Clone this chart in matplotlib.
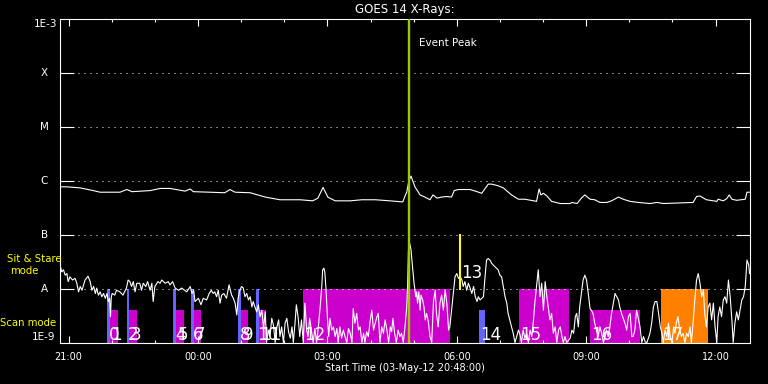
import numpy as np
import matplotlib
matplotlib.use('Agg')
import matplotlib.pyplot as plt

# time axis: UT hours counted from 00:00 on 03-May-12 (24+ = 04-May)
t_start, t_end = 20.8, 36.8

# GOES 14 long channel (1-8 A), log10 of W/m^2
long_t = [20.80, 20.96, 21.27, 21.57, 21.73, 22.19, 22.35, 22.47, 22.89, 23.12,
          23.35, 23.70, 23.82, 23.89, 24.27, 24.62, 24.74, 24.86, 25.21, 25.56,
          25.90, 26.37, 26.66, 26.78, 26.90, 27.01, 27.18, 27.53, 27.80, 28.11,
          28.45, 28.75, 28.80, 28.84, 28.89, 28.94, 29.03, 29.15, 29.26, 29.38,
          29.45, 29.54, 29.65, 29.77, 29.88, 29.94, 30.04, 30.31, 30.47, 30.58,
          30.73, 30.81, 30.96, 31.08, 31.27, 31.43, 31.58, 31.85, 31.91, 31.95,
          32.01, 32.09, 32.20, 32.40, 32.63, 32.67, 32.79, 32.89, 32.97, 33.09,
          33.20, 33.32, 33.48, 33.59, 33.75, 33.86, 34.02, 34.21, 34.48, 34.64,
          34.79, 35.48, 35.56, 35.64, 35.79, 36.03, 36.06, 36.18, 36.26, 36.32,
          36.38, 36.49, 36.69, 36.73, 36.80]
long_log = [-6.11, -6.11, -6.13, -6.18, -6.21, -6.21, -6.16, -6.20, -6.18, -6.14,
            -6.14, -6.19, -6.15, -6.20, -6.21, -6.22, -6.16, -6.21, -6.22, -6.30,
            -6.35, -6.35, -6.37, -6.32, -6.12, -6.30, -6.37, -6.37, -6.35, -6.35,
            -6.37, -6.39, -6.28, -6.21, -6.00, -5.91, -6.11, -6.26, -6.30, -6.35,
            -6.26, -6.32, -6.30, -6.29, -6.30, -6.18, -6.16, -6.16, -6.20, -6.23,
            -6.06, -6.06, -6.09, -6.13, -6.26, -6.34, -6.34, -6.38, -6.15, -6.26,
            -6.23, -6.28, -6.38, -6.42, -6.42, -6.40, -6.42, -6.32, -6.26, -6.34,
            -6.35, -6.40, -6.40, -6.37, -6.30, -6.34, -6.38, -6.40, -6.42, -6.40,
            -6.42, -6.40, -6.29, -6.28, -6.35, -6.38, -6.34, -6.37, -6.33, -6.26,
            -6.34, -6.36, -6.34, -6.21, -6.21]

# GOES 14 short channel (0.5-4 A), log10 of W/m^2
short_t = [
    20.82, 20.84, 20.88, 20.92, 20.96, 20.99, 21.03, 21.09, 21.15, 21.19,
    21.23, 21.27, 21.31, 21.38, 21.45, 21.50, 21.54, 21.58, 21.62, 21.65,
    21.69, 21.73, 21.77, 21.81, 21.85, 21.89, 21.92, 21.95, 21.97, 21.99,
    22.01, 22.07, 22.11, 22.19, 22.26, 22.34, 22.38, 22.42, 22.46, 22.50,
    22.54, 22.58, 22.65, 22.69, 22.73, 22.79, 22.83, 22.89, 22.93, 22.96,
    23.00, 23.07, 23.12, 23.16, 23.24, 23.31, 23.35, 23.41, 23.47, 23.55,
    23.62, 23.69, 23.74, 23.82, 23.86, 23.90, 23.93, 24.01, 24.07, 24.12,
    24.20, 24.26, 24.31, 24.35, 24.39, 24.43, 24.47, 24.51, 24.55, 24.60,
    24.66, 24.72, 24.78, 24.82, 24.86, 24.90, 24.93, 24.97, 25.01, 25.05,
    25.09, 25.13, 25.17, 25.21, 25.25, 25.28, 25.32, 25.36, 25.40, 25.44,
    25.48, 25.52, 25.56, 25.59, 25.63, 25.67, 25.71, 25.75, 25.79, 25.83,
    25.87, 25.90, 25.94, 25.98, 26.02, 26.06, 26.10, 26.14, 26.18, 26.21,
    26.25, 26.28, 26.32, 26.36, 26.40, 26.44, 26.48, 26.52, 26.55, 26.59,
    26.63, 26.67, 26.71, 26.75, 26.79, 26.83, 26.87, 26.89, 26.92, 26.94,
    26.97, 27.00, 27.03, 27.06, 27.10, 27.14, 27.18, 27.22, 27.25, 27.29,
    27.33, 27.37, 27.41, 27.45, 27.49, 27.53, 27.57, 27.60, 27.64, 27.68,
    27.72, 27.76, 27.80, 27.84, 27.87, 27.91, 27.95, 27.99, 28.03, 28.07,
    28.11, 28.15, 28.18, 28.22, 28.26, 28.30, 28.34, 28.38, 28.42, 28.46,
    28.49, 28.52, 28.56, 28.60, 28.64, 28.68, 28.72, 28.76, 28.80, 28.84,
    28.86, 28.88, 28.91, 28.94, 28.96, 28.99, 29.01, 29.05, 29.07, 29.09,
    29.12, 29.15, 29.17, 29.21, 29.24, 29.27, 29.30, 29.34, 29.38, 29.42,
    29.46, 29.50, 29.53, 29.57, 29.61, 29.65, 29.69, 29.73, 29.77, 29.81,
    29.84, 29.88, 29.92, 29.96, 30.00, 30.04, 30.08, 30.12, 30.15, 30.19,
    30.23, 30.27, 30.31, 30.35, 30.39, 30.43, 30.47, 30.50, 30.54, 30.58,
    30.62, 30.65, 30.69, 30.73, 30.77, 30.81, 30.88, 30.96, 31.00, 31.04,
    31.08, 31.12, 31.16, 31.19, 31.23, 31.27, 31.31, 31.35, 31.39, 31.43,
    31.47, 31.50, 31.54, 31.58, 31.62, 31.66, 31.70, 31.74, 31.78, 31.81,
    31.85, 31.89, 31.93, 31.97, 32.01, 32.05, 32.09, 32.12, 32.16, 32.20,
    32.24, 32.28, 32.32, 32.36, 32.40, 32.44, 32.47, 32.51, 32.55, 32.63,
    32.67, 32.71, 32.75, 32.78, 32.82, 32.85, 32.89, 32.93, 32.97, 33.01,
    33.05, 33.09, 33.12, 33.16, 33.20, 33.24, 33.28, 33.32, 33.36, 33.40,
    33.44, 33.47, 33.51, 33.55, 33.59, 33.63, 33.67, 33.71, 33.75, 33.78,
    33.82, 33.86, 33.90, 33.94, 33.98, 34.02, 34.06, 34.09, 34.13, 34.17,
    34.21, 34.25, 34.29, 34.33, 34.37, 34.41, 34.48, 34.52, 34.56, 34.60,
    34.64, 34.68, 34.72, 34.76, 34.79, 34.83, 34.87, 34.91, 34.95, 34.99,
    35.03, 35.06, 35.09, 35.13, 35.17, 35.21, 35.25, 35.29, 35.33, 35.37,
    35.41, 35.44, 35.48, 35.52, 35.56, 35.60, 35.64, 35.68, 35.72, 35.75,
    35.79, 35.83, 35.87, 35.91, 35.95, 35.99, 36.03, 36.06, 36.10, 36.14,
    36.18, 36.22, 36.26, 36.30, 36.34, 36.38, 36.41, 36.45, 36.49, 36.53,
    36.57, 36.61, 36.65, 36.69, 36.73, 36.77, 36.79]
short_log = [
    -7.62, -7.69, -7.65, -7.75, -7.72, -7.87, -7.78, -7.84, -7.81, -7.90,
    -8.06, -7.96, -8.03, -7.84, -7.77, -7.87, -8.03, -7.96, -8.09, -7.99,
    -8.12, -8.06, -8.15, -8.09, -8.18, -8.09, -8.24, -8.18, -8.52, -8.15,
    -8.09, -8.12, -8.03, -8.06, -8.12, -7.99, -7.84, -7.87, -7.96, -7.87,
    -8.06, -7.90, -7.90, -8.03, -7.90, -7.96, -7.87, -8.03, -7.90, -8.24,
    -7.96, -7.87, -7.90, -7.84, -7.90, -7.87, -7.93, -7.87, -7.99, -8.03,
    -7.99, -8.03, -8.06, -7.96, -8.09, -8.03, -8.24, -8.18, -8.30, -8.18,
    -8.21, -8.09, -8.03, -8.09, -8.06, -8.15, -8.03, -8.27, -8.12, -8.09,
    -8.18, -7.93, -8.12, -8.18, -8.27, -8.49, -8.18, -8.03, -7.96, -7.99,
    -8.15, -8.09, -8.21, -8.15, -8.34, -8.24, -8.34, -8.43, -8.30, -8.52,
    -8.40, -8.74, -8.43, -9.00, -8.77, -8.89, -8.55, -8.68, -9.00, -8.71,
    -8.58, -8.89, -8.71, -9.00, -8.64, -8.55, -8.80, -8.92, -8.71, -9.00,
    -8.64, -8.30, -8.52, -8.89, -8.58, -9.00, -8.27, -8.77, -8.89, -8.55,
    -8.77, -9.00, -8.74, -9.00, -8.71, -8.37, -7.96, -7.65, -7.62, -7.69,
    -8.03, -8.52, -8.89, -8.55, -8.77, -8.71, -8.89, -8.74, -9.00, -8.71,
    -8.92, -8.77, -8.89, -9.00, -8.74, -8.83, -9.00, -8.37, -8.64, -8.46,
    -8.77, -8.71, -9.00, -8.83, -9.00, -8.80, -8.89, -8.61, -8.40, -8.77,
    -8.64, -8.52, -8.46, -9.00, -8.71, -8.83, -8.58, -8.77, -9.00, -8.71,
    -8.80, -8.55, -8.83, -9.00, -8.77, -8.89, -8.83, -9.00, -8.71, -8.34,
    -7.96, -7.28, -7.16, -7.28, -7.47, -7.72, -7.90, -8.15, -8.06, -8.27,
    -8.06, -8.40, -8.12, -8.21, -8.34, -8.58, -8.46, -8.61, -8.89, -9.00,
    -8.24, -8.03, -8.46, -8.71, -8.27, -8.12, -8.40, -8.03, -8.27, -8.77,
    -8.71, -8.40, -8.09, -7.78, -7.72, -7.81, -7.78, -7.84, -7.96, -7.87,
    -8.03, -7.90, -7.99, -8.09, -7.96, -8.15, -8.24, -8.15, -8.21, -8.18,
    -8.15, -7.84, -7.47, -7.44, -7.47, -7.53, -7.59, -7.65, -7.75, -7.78,
    -7.96, -8.15, -8.27, -8.46, -8.58, -8.71, -8.83, -9.00, -8.89, -8.77,
    -8.86, -9.00, -8.77, -8.92, -8.83, -9.00, -8.77, -8.89, -8.58, -8.27,
    -7.96, -7.65, -8.15, -7.90, -8.40, -7.87, -8.15, -8.34, -8.58, -8.46,
    -8.83, -8.71, -9.00, -8.77, -8.71, -8.89, -9.00, -8.89, -9.00, -8.92,
    -8.77, -8.83, -8.52, -8.46, -8.71, -8.34, -8.09, -7.84, -7.75, -7.84,
    -8.09, -8.37, -8.40, -8.46, -8.64, -8.77, -8.89, -8.71, -8.83, -9.00,
    -8.89, -8.77, -8.89, -8.71, -8.46, -8.27, -8.09, -8.15, -8.21, -8.34,
    -8.46, -8.55, -8.64, -8.77, -8.52, -8.46, -8.89, -8.89, -8.77, -8.40,
    -8.55, -8.71, -9.00, -8.89, -8.99, -9.00, -8.83, -8.64, -8.34, -8.24,
    -8.24, -8.46, -8.71, -8.83, -9.00, -8.77, -8.89, -8.64, -8.89, -9.00,
    -8.71, -8.83, -8.64, -8.52, -8.77, -8.89, -8.83, -9.00, -8.83, -8.89,
    -8.71, -9.00, -8.64, -8.21, -7.84, -7.72, -7.90, -8.15, -8.03, -8.46,
    -8.71, -8.34, -8.27, -8.58, -8.27, -8.71, -9.00, -8.52, -8.34, -8.52,
    -8.21, -8.15, -8.27, -7.84, -8.15, -8.58, -9.00, -8.64, -8.43, -8.58,
    -8.40, -8.21, -8.15, -7.96, -7.47, -7.56, -7.72]

# observing modes (scan mode blocks)
mode_id = [0, 1, 2, 3, 4, 5, 6, 7, 8, 9, 10, 11, 12, 14, 15, 16, 17]
mode_start = [21.89, 21.95, 22.35, 22.41, 23.43, 23.49, 23.84, 23.90, 24.93, 25.00,
              25.35, 25.41, 26.44, 30.52, 31.44, 33.09, 34.74]
mode_end = [21.95, 22.14, 22.41, 22.58, 23.49, 23.68, 23.90, 24.08, 25.00, 25.17,
            25.41, 25.58, 29.84, 30.65, 32.61, 34.25, 35.82]
mode_top = [1e-8, 4e-9, 1e-8, 4e-9, 1e-8, 4e-9, 1e-8, 4e-9, 1e-8, 4e-9,
            1e-8, 4e-9, 1e-8, 4e-9, 1e-8, 4e-9, 1e-8]
mode_color = ['#6464ff', '#cc00cc', '#6464ff', '#cc00cc', '#6464ff', '#cc00cc',
              '#6464ff', '#cc00cc', '#6464ff', '#cc00cc', '#6464ff', '#cc00cc',
              '#cc00cc', '#6464ff', '#cc00cc', '#cc00cc', '#ff8000']

# sit & stare
stare_id = 13
stare_t = 30.08
stare_lo, stare_hi = 1e-8, 1e-7

peak_t = 28.89

tick_t = [21, 24, 27, 30, 33, 36]
tick_lab = ['21:00', '00:00', '03:00', '06:00', '09:00', '12:00']
class_flux = [1e-8, 1e-7, 1e-6, 1e-5, 1e-4]
class_lab = ['A', 'B', 'C', 'M', 'X']

fig = plt.figure(figsize=(7.68, 3.84), dpi=100, facecolor='black')
ax = fig.add_axes([60 / 768, 41.5 / 384, 690 / 768, 323.2 / 384], facecolor='black')
ax.set_yscale('log')
ax.set_xlim(t_start, t_end)
ax.set_ylim(1e-9, 1e-3)

# mode blocks
for s, e, top, c in zip(mode_start, mode_end, mode_top, mode_color):
    ax.bar(s, top - 1e-9, width=e - s, bottom=1e-9, align='edge', color=c,
           linewidth=0, zorder=1)

# class levels: dotted lines
for f in class_flux:
    ax.axhline(f, color='white', ls=(0, (1, 5)), lw=0.72, zorder=2)

ax.plot(short_t, 10 ** np.array(short_log), color='white', lw=0.8, zorder=3)
ax.plot(long_t, 10 ** np.array(long_log), color='white', lw=0.8, zorder=3)

ax.axvline(peak_t, color='#99cc00', lw=1.7, zorder=4)
ax.plot([stare_t, stare_t], [stare_lo, stare_hi], color='#ffff00', lw=1.5, zorder=4)

xtr = ax.get_xaxis_transform()
for i, s in zip(mode_id, mode_start):
    ax.annotate(str(i), (s, 0), xycoords=xtr, xytext=(1.0, 1.8),
                textcoords='offset points', color='white', fontsize=12,
                ha='left', va='baseline', zorder=5)
ax.annotate(str(stare_id), (stare_t, stare_lo), xytext=(1.0, 8),
            textcoords='offset points', color='white', fontsize=12,
            ha='left', va='baseline', zorder=5)
ax.annotate('Event Peak', (peak_t, 1), xycoords=xtr, xytext=(7.6, -17),
            textcoords='offset points', color='white', fontsize=7.5,
            ha='left', va='center', zorder=5)

# axes styling
for sp in ax.spines.values():
    sp.set_color('white')
    sp.set_linewidth(0.8)
ax.set_xticks(tick_t)
ax.set_xticklabels(tick_lab)
ax.set_xticks(np.arange(22, 37), minor=True)
ax.tick_params(axis='x', which='major', direction='in', length=4.8, width=0.8,
               colors='white', top=True, bottom=True, labelsize=7, pad=7)
ax.tick_params(axis='x', which='minor', direction='in', length=2.4, width=0.8,
               colors='white', top=True, bottom=True)
ax.set_yticks(class_flux)
ax.set_yticks([], minor=True)
ax.tick_params(axis='y', which='major', direction='in', length=10, width=0.8,
               colors='white', left=True, right=True, labelleft=False)

ytr = ax.get_yaxis_transform()
for f, lab in zip(class_flux, class_lab):
    ax.text(-0.023, f, lab, transform=ytr, color='white', fontsize=7.5,
            ha='center', va='center')
ax.text(-0.004, 1e-3, '1E-3', transform=ytr, color='white', fontsize=7.5,
        ha='right', va='top')
ax.text(-0.007, 1e-9, '1E-9', transform=ytr, color='white', fontsize=7.5,
        ha='right', va='bottom')

fig.text(405 / 768, 1 - 9 / 384, 'GOES 14 X-Rays:', color='white', fontsize=8.5,
         ha='center', va='center')
fig.text(405 / 768, 1 - 368 / 384, 'Start Time (03-May-12 20:48:00)', color='white',
         fontsize=7, ha='center', va='center')
fig.text(34 / 768, 1 - 258.5 / 384, 'Sit & Stare', color='#ffff00', fontsize=7.3,
         ha='center', va='center')
fig.text(24 / 768, 1 - 271 / 384, 'mode', color='#ffff00', fontsize=7.3,
         ha='center', va='center')
fig.text(28.5 / 768, 1 - 323 / 384, 'Scan mode', color='#ffff00', fontsize=7.3,
         ha='center', va='center')

fig.savefig('out.png', dpi=100, facecolor='black')
